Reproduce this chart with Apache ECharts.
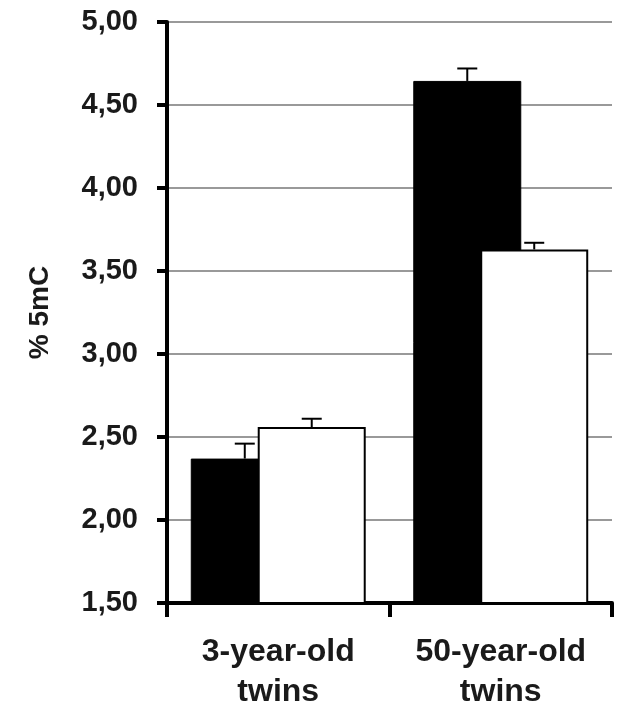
<!DOCTYPE html>
<html><head><meta charset="utf-8">
<script src="https://cdn.jsdelivr.net/npm/echarts@6/dist/echarts.min.js"></script>
<style>html,body{margin:0;padding:0;background:#fff}#c{width:628px;height:713px}</style>
</head><body><div id="c"></div>
<script>
const categories = ['3-year-old\ntwins', '50-year-old\ntwins'];
const blackValues = [2.37, 4.645];
const blackErrTop = [2.46, 4.72];
const whiteValues = [2.56, 3.63];
const whiteErrTop = [2.61, 3.67];
const yTicks = [1.5, 2.0, 2.5, 3.0, 3.5, 4.0, 4.5, 5.0];

const chart = echarts.init(document.getElementById('c'));
const BW = 108, GAP = -0.38;
const shift = BW * (1 + GAP) / 2;

function errSeries(values, dir) {
  return {
    type: 'custom', z: 10,
    data: values.map((v, i) => [i, v]),
    renderItem: function (params, api) {
      const i = api.value(0), v = api.value(1);
      const p = api.coord([i, v]);
      const x = p[0] + dir * shift;
      const idx = params.dataIndex;
      const base = api.coord([i, dir < 0 ? blackValues[idx] : whiteValues[idx]]);
      const style = { stroke: '#000', lineWidth: 2 };
      return { type: 'group', children: [
        { type: 'line', shape: { x1: x, y1: base[1], x2: x, y2: p[1] }, style },
        { type: 'line', shape: { x1: x - 10, y1: p[1], x2: x + 10, y2: p[1] }, style }
      ]};
    }
  };
}

chart.setOption({
  animation: false,
  backgroundColor: '#fff',
  grid: { left: 167, right: 16, top: 22, bottom: 110 },
  xAxis: {
    type: 'category', data: categories,
    axisLine: { lineStyle: { color: '#000', width: 4 } },
    axisTick: { show: true, length: 14, lineStyle: { color: '#000', width: 4 } },
    axisLabel: { color: '#1a1a1a', fontFamily: 'Liberation Sans', fontWeight: 'bold', fontSize: 32, lineHeight: 40, margin: 29 }
  },
  yAxis: {
    type: 'value', min: 1.5, max: 5, interval: 0.5,
    name: '% 5mC', nameLocation: 'middle', nameGap: 113,
    nameTextStyle: { color: '#1a1a1a', fontFamily: 'Liberation Sans', fontSize: 28, fontWeight: 'bold' },
    axisLine: { show: true, lineStyle: { color: '#000', width: 4 } },
    axisTick: { show: true, length: 10, lineStyle: { color: '#000', width: 4 } },
    axisLabel: { color: '#1a1a1a', fontFamily: 'Liberation Sans', fontWeight: 'bold', fontSize: 29, margin: 29,
      formatter: v => yTicks.indexOf(v) >= 0 ? v.toFixed(2).replace('.', ',') : '' },
    splitLine: { show: true, lineStyle: { color: '#777', width: 1.5 } }
  },
  series: [
    { type: 'bar', data: blackValues, barWidth: BW, barGap: (GAP * 100) + '%',
      itemStyle: { color: '#000', borderColor: '#000', borderWidth: 1 } },
    { type: 'bar', data: whiteValues, barWidth: BW,
      itemStyle: { color: '#fff', borderColor: '#000', borderWidth: 2 } },
    errSeries(blackErrTop, -1),
    errSeries(whiteErrTop, 1)
  ]
});
</script></body></html>
